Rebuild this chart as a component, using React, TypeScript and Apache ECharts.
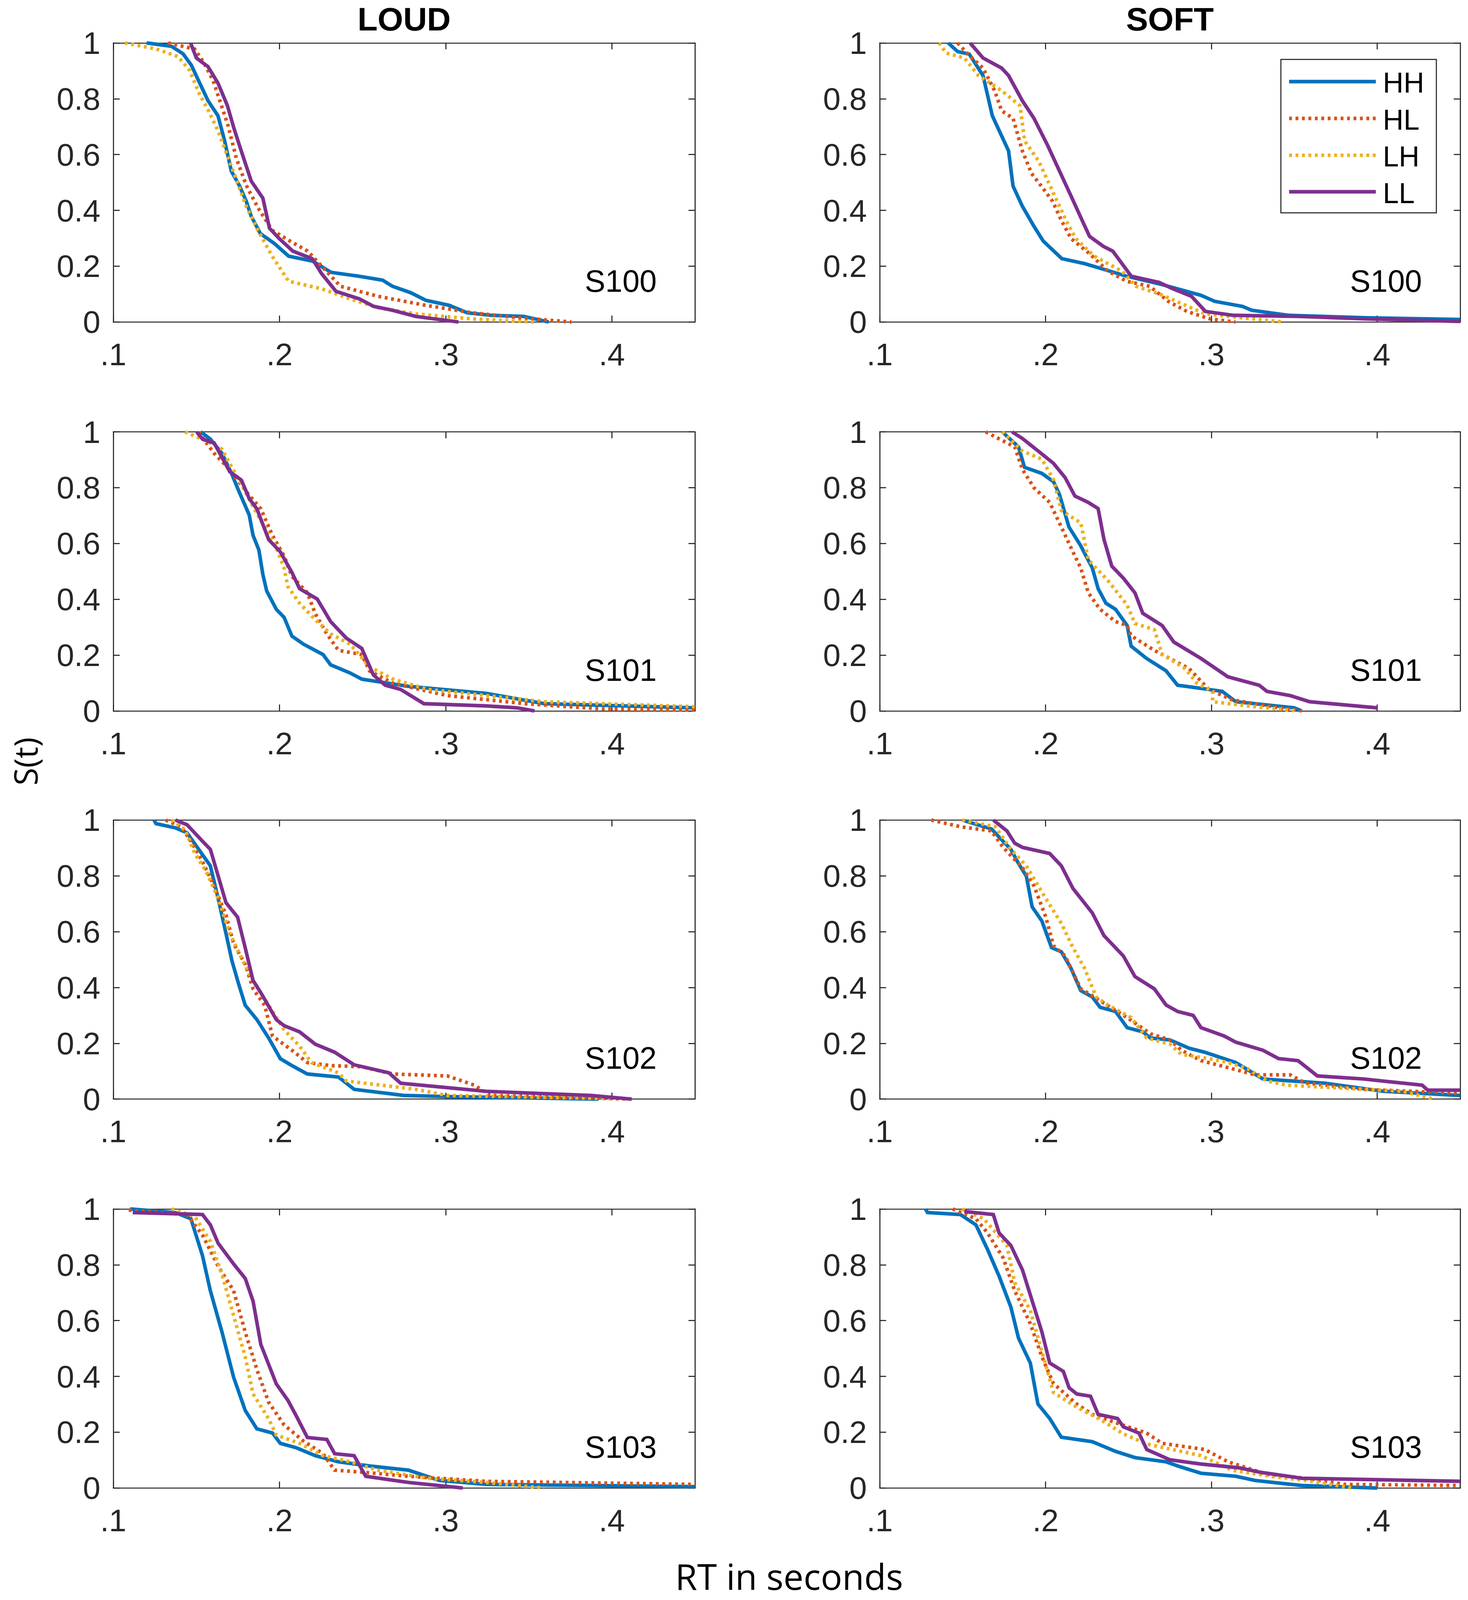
import React, { useEffect, useRef, useState } from "react";
import * as echarts from "echarts";

// ---------- DATA ----------
const conditions = ["HH", "HL", "LH", "LL"];
const columnTitles = ["LOUD", "SOFT"];
const subjects = ["S100", "S101", "S102", "S103"];
const xTicks = [0.1, 0.2, 0.3, 0.4];
const yTicks = [0, 0.2, 0.4, 0.6, 0.8, 1];

// LOUD S100
const L100_HH = [[0.12,1],[0.135,0.988],[0.142,0.961],[0.147,0.92],[0.152,0.856],[0.157,0.793],[0.163,0.739],[0.167,0.649],[0.171,0.541],[0.176,0.487],[0.18,0.433],[0.183,0.379],[0.1885,0.317],[0.197,0.281],[0.2055,0.236],[0.22,0.218],[0.231,0.178],[0.248,0.164],[0.262,0.15],[0.268,0.128],[0.279,0.105],[0.288,0.078],[0.302,0.06],[0.313,0.033],[0.3275,0.024],[0.347,0.02],[0.362,0]];
const L100_HL = [[0.133,1],[0.149,0.978],[0.1545,0.929],[0.16,0.866],[0.164,0.795],[0.169,0.705],[0.174,0.588],[0.18,0.49],[0.187,0.41],[0.1956,0.329],[0.2055,0.293],[0.217,0.254],[0.2254,0.2],[0.2367,0.128],[0.2594,0.092],[0.2878,0.06],[0.316,0.033],[0.3446,0.015],[0.3757,0]];
const L100_LH = [[0.107,1],[0.126,0.978],[0.139,0.951],[0.146,0.901],[0.1516,0.82],[0.1573,0.757],[0.163,0.685],[0.1687,0.595],[0.1743,0.505],[0.18,0.415],[0.187,0.329],[0.1956,0.236],[0.2055,0.146],[0.2254,0.119],[0.2424,0.083],[0.2594,0.051],[0.282,0.029],[0.316,0.011],[0.353,0]];
const L100_LL = [[0.1465,1],[0.15,0.946],[0.157,0.915],[0.163,0.856],[0.1687,0.775],[0.1726,0.694],[0.177,0.613],[0.183,0.505],[0.19,0.444],[0.194,0.336],[0.1997,0.3],[0.208,0.254],[0.2197,0.227],[0.2254,0.173],[0.234,0.11],[0.248,0.083],[0.2567,0.056],[0.268,0.042],[0.282,0.02],[0.2935,0.011],[0.3077,0]];

// SOFT S100
const S100_HH = [[0.1413,1],[0.147,0.969],[0.154,0.96],[0.1623,0.883],[0.1679,0.739],[0.1777,0.613],[0.1804,0.487],[0.186,0.415],[0.193,0.343],[0.1986,0.29],[0.2098,0.227],[0.2237,0.209],[0.2489,0.164],[0.2684,0.137],[0.2936,0.096],[0.302,0.074],[0.3187,0.056],[0.3243,0.042],[0.3466,0.024],[0.394,0.015],[0.45,0.009]];
const S100_HL = [[0.147,1],[0.154,0.955],[0.1623,0.91],[0.1693,0.829],[0.1735,0.757],[0.1804,0.73],[0.186,0.613],[0.1916,0.532],[0.1986,0.478],[0.2042,0.433],[0.2098,0.361],[0.2154,0.299],[0.2265,0.245],[0.2377,0.182],[0.2489,0.146],[0.2628,0.128],[0.274,0.074],[0.2852,0.038],[0.2992,0.011],[0.3145,0]];
const S100_LH = [[0.1358,1],[0.14,0.964],[0.1511,0.946],[0.1595,0.883],[0.1735,0.829],[0.1846,0.775],[0.1874,0.649],[0.1958,0.577],[0.2014,0.505],[0.207,0.433],[0.2126,0.361],[0.2182,0.299],[0.2293,0.236],[0.2461,0.182],[0.2545,0.128],[0.2684,0.101],[0.2824,0.065],[0.2964,0.029],[0.3187,0.015],[0.3439,0]];
const S100_LL = [[0.1545,1],[0.1623,0.946],[0.1735,0.91],[0.1777,0.883],[0.186,0.793],[0.193,0.73],[0.2014,0.631],[0.207,0.559],[0.2154,0.451],[0.2223,0.361],[0.2265,0.307],[0.2349,0.271],[0.2405,0.254],[0.2517,0.164],[0.2684,0.142],[0.2768,0.119],[0.288,0.092],[0.2964,0.038],[0.3131,0.024],[0.3522,0.02],[0.394,0.011],[0.45,0.002]];

// LOUD S101
const L101_HH = [[0.1526,1],[0.1584,0.974],[0.1654,0.923],[0.1713,0.849],[0.1748,0.798],[0.1818,0.702],[0.1841,0.629],[0.1876,0.577],[0.19,0.489],[0.1923,0.43],[0.1981,0.364],[0.2028,0.335],[0.2075,0.268],[0.2145,0.239],[0.2262,0.202],[0.2308,0.165],[0.2425,0.136],[0.2495,0.114],[0.2776,0.088],[0.3243,0.063],[0.3593,0.026],[0.45,0.011]];
const L101_HL = [[0.1514,1],[0.1561,0.96],[0.1607,0.923],[0.1701,0.864],[0.1794,0.79],[0.1888,0.724],[0.1958,0.629],[0.2028,0.555],[0.2075,0.482],[0.2168,0.423],[0.2215,0.349],[0.2285,0.276],[0.2355,0.217],[0.2495,0.202],[0.2542,0.143],[0.2682,0.099],[0.3009,0.055],[0.3477,0.026],[0.3944,0.007],[0.45,0.004]];
const L101_LH = [[0.1432,1],[0.1561,0.967],[0.1654,0.938],[0.1701,0.886],[0.1771,0.813],[0.1841,0.732],[0.1911,0.658],[0.1981,0.585],[0.2028,0.511],[0.2051,0.445],[0.2121,0.386],[0.2215,0.327],[0.2308,0.276],[0.2425,0.239],[0.2542,0.158],[0.2682,0.114],[0.2893,0.077],[0.3243,0.055],[0.3593,0.033],[0.45,0.015]];
const L101_LL = [[0.1502,1],[0.1537,0.974],[0.1607,0.96],[0.1701,0.857],[0.1771,0.827],[0.1818,0.761],[0.1864,0.724],[0.1935,0.614],[0.2005,0.57],[0.2075,0.496],[0.2121,0.438],[0.2227,0.401],[0.2308,0.32],[0.2402,0.261],[0.2495,0.224],[0.2565,0.129],[0.2636,0.092],[0.2729,0.077],[0.2869,0.026],[0.3243,0.018],[0.343,0.011],[0.3535,0]];

// SOFT S101
const S101_HH = [[0.1739,1],[0.1837,0.946],[0.1873,0.873],[0.1978,0.851],[0.2048,0.821],[0.2083,0.777],[0.2141,0.659],[0.2211,0.593],[0.2282,0.512],[0.2317,0.438],[0.2364,0.386],[0.2422,0.364],[0.2492,0.306],[0.2516,0.232],[0.2609,0.188],[0.2726,0.144],[0.2796,0.092],[0.2984,0.077],[0.3065,0.07],[0.3147,0.033],[0.3498,0.011],[0.3545,0]];
const S101_HL = [[0.1639,1],[0.1814,0.946],[0.1861,0.865],[0.1931,0.799],[0.2025,0.747],[0.2095,0.659],[0.2165,0.57],[0.2212,0.512],[0.2258,0.423],[0.2329,0.364],[0.2422,0.32],[0.2492,0.306],[0.2516,0.269],[0.2656,0.217],[0.2867,0.151],[0.2984,0.077],[0.3124,0.04],[0.3405,0.011],[0.3545,0]];
const S101_LH = [[0.1739,1],[0.1861,0.931],[0.1978,0.902],[0.2048,0.828],[0.2095,0.718],[0.2212,0.674],[0.2258,0.541],[0.2375,0.468],[0.2492,0.379],[0.2539,0.313],[0.2656,0.291],[0.2703,0.203],[0.2843,0.151],[0.2913,0.099],[0.3007,0.07],[0.3007,0.033],[0.3218,0.018],[0.3522,0]];
const S101_LL = [[0.1798,1],[0.1861,0.976],[0.1954,0.932],[0.2048,0.887],[0.2118,0.836],[0.2177,0.77],[0.2258,0.747],[0.2317,0.725],[0.2352,0.615],[0.2399,0.519],[0.247,0.475],[0.2539,0.423],[0.2586,0.35],[0.2703,0.306],[0.2773,0.247],[0.2937,0.188],[0.31,0.122],[0.3288,0.092],[0.3335,0.07],[0.3475,0.055],[0.3592,0.033],[0.4,0.011]];

// LOUD S102
const L102_HH = [[0.1245,1],[0.1257,0.987],[0.1374,0.972],[0.1444,0.954],[0.1514,0.895],[0.1584,0.836],[0.1631,0.719],[0.1678,0.594],[0.1713,0.498],[0.1748,0.425],[0.1794,0.336],[0.1864,0.285],[0.1935,0.219],[0.2005,0.145],[0.2075,0.12],[0.2168,0.09],[0.2355,0.079],[0.2449,0.035],[0.2752,0.013],[0.3009,0.009],[0.392,0]];
const L102_HL = [[0.1315,1],[0.1409,0.976],[0.1467,0.924],[0.1537,0.851],[0.1607,0.763],[0.1678,0.66],[0.1724,0.557],[0.1794,0.483],[0.1841,0.395],[0.1911,0.336],[0.1958,0.226],[0.2075,0.175],[0.2168,0.131],[0.2308,0.12],[0.2495,0.116],[0.2682,0.09],[0.3009,0.083],[0.3173,0.05],[0.3266,0.013],[0.371,0.006],[0.4131,0]];
const L102_LH = [[0.135,1],[0.1432,0.965],[0.1491,0.88],[0.1561,0.814],[0.1631,0.719],[0.1701,0.594],[0.1771,0.506],[0.1841,0.425],[0.1935,0.336],[0.2028,0.248],[0.2121,0.19],[0.2192,0.131],[0.2355,0.094],[0.2402,0.065],[0.2822,0.035],[0.3009,0.013],[0.399,0.002]];
const L102_LL = [[0.1374,1],[0.1444,0.983],[0.1537,0.924],[0.1584,0.895],[0.1631,0.8],[0.1678,0.704],[0.1748,0.652],[0.1794,0.542],[0.1841,0.425],[0.1888,0.381],[0.1981,0.285],[0.2028,0.263],[0.2121,0.241],[0.2215,0.197],[0.2332,0.168],[0.2449,0.123],[0.2659,0.094],[0.2729,0.057],[0.3243,0.028],[0.3874,0.013],[0.4119,0]];

// SOFT S102
const S102_HH = [[0.1498,1],[0.1674,0.968],[0.1744,0.924],[0.1791,0.895],[0.1837,0.844],[0.1884,0.799],[0.1919,0.689],[0.1978,0.638],[0.2036,0.543],[0.2095,0.528],[0.2153,0.469],[0.2212,0.389],[0.2282,0.366],[0.2329,0.329],[0.2422,0.314],[0.2492,0.256],[0.2586,0.241],[0.2632,0.219],[0.275,0.212],[0.2867,0.182],[0.296,0.168],[0.3147,0.131],[0.3311,0.072],[0.3685,0.057],[0.4036,0.028],[0.45,0.013]];
const S102_HL = [[0.1311,1],[0.1487,0.976],[0.1674,0.961],[0.1744,0.902],[0.1861,0.829],[0.1931,0.763],[0.2001,0.653],[0.2048,0.55],[0.2118,0.513],[0.2212,0.396],[0.2329,0.352],[0.2492,0.292],[0.2563,0.263],[0.2633,0.234],[0.275,0.212],[0.282,0.175],[0.2937,0.138],[0.3124,0.109],[0.3264,0.087],[0.3475,0.087],[0.3569,0.057],[0.3919,0.035],[0.45,0.021]];
const S102_LH = [[0.1498,1],[0.1697,0.976],[0.1791,0.895],[0.1884,0.836],[0.2001,0.719],[0.2095,0.63],[0.2165,0.543],[0.2235,0.469],[0.2305,0.366],[0.2375,0.337],[0.2516,0.292],[0.261,0.219],[0.275,0.197],[0.282,0.16],[0.2984,0.145],[0.3101,0.131],[0.3218,0.109],[0.3335,0.065],[0.3452,0.05],[0.4153,0.028],[0.434,0]];
const S102_LL = [[0.1685,1],[0.1767,0.961],[0.1814,0.917],[0.1861,0.902],[0.2025,0.88],[0.2095,0.836],[0.2165,0.755],[0.2282,0.667],[0.2352,0.586],[0.2469,0.513],[0.2539,0.439],[0.2656,0.395],[0.2727,0.337],[0.2797,0.314],[0.289,0.3],[0.2937,0.256],[0.3077,0.226],[0.3147,0.204],[0.3311,0.175],[0.3405,0.145],[0.3522,0.138],[0.3639,0.083],[0.3919,0.072],[0.427,0.05],[0.4305,0.032],[0.45,0.032]];

// LOUD S103
const L103_HH = [[0.11,1],[0.1374,0.987],[0.1467,0.965],[0.1537,0.832],[0.1584,0.707],[0.1654,0.559],[0.1724,0.397],[0.1794,0.278],[0.1864,0.212],[0.1958,0.197],[0.2005,0.16],[0.2098,0.145],[0.2215,0.116],[0.2355,0.094],[0.2542,0.079],[0.2776,0.064],[0.2963,0.027],[0.3243,0.013],[0.45,0.005]];
const L103_HL = [[0.1093,0.996],[0.1444,0.98],[0.1537,0.906],[0.1631,0.795],[0.1724,0.707],[0.1794,0.559],[0.1864,0.425],[0.1935,0.307],[0.2028,0.226],[0.2145,0.168],[0.2262,0.123],[0.2332,0.064],[0.2495,0.057],[0.2776,0.042],[0.3243,0.024],[0.45,0.013]];
const L103_LH = [[0.135,1],[0.149,0.973],[0.1584,0.884],[0.1654,0.766],[0.1724,0.618],[0.1794,0.47],[0.1841,0.337],[0.1935,0.248],[0.1981,0.19],[0.2121,0.16],[0.2262,0.116],[0.2425,0.094],[0.2589,0.064],[0.2893,0.035],[0.3243,0.02],[0.3593,0]];
const L103_LL = [[0.1117,0.987],[0.1537,0.98],[0.1584,0.943],[0.1631,0.877],[0.1724,0.803],[0.1794,0.751],[0.1841,0.67],[0.1888,0.514],[0.1981,0.373],[0.2051,0.314],[0.2098,0.262],[0.2168,0.181],[0.2285,0.174],[0.2332,0.123],[0.2449,0.116],[0.2519,0.042],[0.2776,0.02],[0.3103,0]];

// SOFT S103
const S103_HH = [[0.1276,1],[0.1288,0.987],[0.1487,0.98],[0.158,0.943],[0.165,0.855],[0.172,0.759],[0.1791,0.648],[0.1837,0.537],[0.1908,0.448],[0.1954,0.301],[0.2025,0.249],[0.2095,0.182],[0.2282,0.166],[0.2423,0.131],[0.2539,0.109],[0.2726,0.094],[0.2797,0.079],[0.2937,0.053],[0.3147,0.042],[0.3264,0.027],[0.3545,0.009],[0.4,0]];
const S103_HL = [[0.144,1],[0.158,0.965],[0.165,0.914],[0.1744,0.825],[0.1814,0.707],[0.1908,0.589],[0.1978,0.47],[0.2048,0.374],[0.2188,0.301],[0.2282,0.264],[0.2423,0.234],[0.2609,0.197],[0.2703,0.16],[0.296,0.138],[0.31,0.094],[0.3335,0.049],[0.3569,0.035],[0.3802,0.013],[0.45,0.009]];
const S103_LH = [[0.1498,1],[0.1627,0.965],[0.1767,0.869],[0.1814,0.736],[0.1908,0.637],[0.1978,0.489],[0.2048,0.342],[0.2188,0.29],[0.2329,0.246],[0.2469,0.194],[0.2609,0.158],[0.2937,0.116],[0.3124,0.064],[0.3358,0.042],[0.3569,0.027],[0.3849,0]];
const S103_LL = [[0.151,0.991],[0.1685,0.98],[0.172,0.914],[0.1791,0.869],[0.1861,0.781],[0.1908,0.692],[0.1978,0.559],[0.2025,0.448],[0.2107,0.418],[0.2142,0.359],[0.2189,0.337],[0.2271,0.329],[0.2317,0.264],[0.2434,0.249],[0.2469,0.219],[0.2563,0.197],[0.261,0.138],[0.275,0.101],[0.2937,0.086],[0.3171,0.072],[0.3288,0.057],[0.3545,0.035],[0.45,0.024]];

const panelData = [
  [[L100_HH, L100_HL, L100_LH, L100_LL], [S100_HH, S100_HL, S100_LH, S100_LL]],
  [[L101_HH, L101_HL, L101_LH, L101_LL], [S101_HH, S101_HL, S101_LH, S101_LL]],
  [[L102_HH, L102_HL, L102_LH, L102_LL], [S102_HH, S102_HL, S102_LH, S102_LL]],
  [[L103_HH, L103_HL, L103_LH, L103_LL], [S103_HH, S103_HL, S103_LH, S103_LL]],
];

// ---------- STYLE / LAYOUT (reference pixel units, 3758 x 4472) ----------
const colors = ["#0072BD", "#D95319", "#EDB120", "#7E2F8E"];
const dotted = [false, true, true, false];
const REF_W = 3758;
const REF_H = 4472;
const colLeft = [290, 2252];
const colWidth = [1489, 1486];
const rowTop = [120, 1207, 2292, 3379];
const plotH = 780;
const axisColor = "#262626";
const tickFont = "Liberation Sans, Arial, Helvetica, sans-serif";
const labelFont = "Open Sans, Noto Sans, sans-serif";

function buildOption(W: number, H: number) {
  const sx = W / REF_W;
  const sy = H / REF_H;
  const sf = Math.min(sx, sy);
  const X = (v: number) => v * sx;
  const Y = (v: number) => v * sy;
  const F = (v: number) => Math.max(1, v * sf);
  const dash = [F(8), F(10)];

  const grid: any[] = [];
  const xAxis: any[] = [];
  const yAxis: any[] = [];
  const series: any[] = [];
  const graphic: any[] = [];

  const axisLine = { show: true, onZero: false, lineStyle: { color: axisColor, width: F(3) } };
  const tickStyle = { color: axisColor, width: F(3) };
  const tickLen = F(18);

  for (let r = 0; r < 4; r++) {
    for (let c = 0; c < 2; c++) {
      const gi = grid.length;
      grid.push({
        left: X(colLeft[c]),
        top: Y(rowTop[r]),
        width: X(colWidth[c]),
        height: Y(plotH),
        containLabel: false,
        show: false,
      });
      xAxis.push({
        type: "value",
        gridIndex: gi,
        min: 0.1,
        max: 0.45,
        position: "bottom",
        axisLine,
        axisTick: { show: true, inside: true, length: tickLen, customValues: xTicks, lineStyle: tickStyle },
        axisLabel: {
          show: true,
          customValues: xTicks,
          formatter: (v: number) => "." + Math.round(v * 10),
          fontSize: F(88),
          fontFamily: tickFont,
          color: axisColor,
          margin: F(46),
        },
        splitLine: { show: false },
      });
      xAxis.push({
        type: "value",
        gridIndex: gi,
        min: 0.1,
        max: 0.45,
        position: "top",
        axisLine,
        axisTick: { show: true, inside: true, length: tickLen, customValues: xTicks, lineStyle: tickStyle },
        axisLabel: { show: false },
        splitLine: { show: false },
      });
      yAxis.push({
        type: "value",
        gridIndex: gi,
        min: 0,
        max: 1,
        interval: 0.2,
        position: "left",
        axisLine,
        axisTick: { show: true, inside: true, length: tickLen, customValues: yTicks, lineStyle: tickStyle },
        axisLabel: {
          show: true,
          customValues: yTicks,
          formatter: (v: number) => String(Math.round(v * 10) / 10),
          fontSize: F(88),
          fontFamily: tickFont,
          color: axisColor,
          margin: F(36),
        },
        splitLine: { show: false },
      });
      yAxis.push({
        type: "value",
        gridIndex: gi,
        min: 0,
        max: 1,
        interval: 0.2,
        position: "right",
        axisLine,
        axisTick: { show: true, inside: true, length: tickLen, customValues: yTicks, lineStyle: tickStyle },
        axisLabel: { show: false },
        splitLine: { show: false },
      });

      const curves = panelData[r][c];
      for (let k = 0; k < 4; k++) {
        series.push({
          type: "line",
          name: conditions[k],
          xAxisIndex: gi * 2,
          yAxisIndex: gi * 2,
          data: curves[k],
          showSymbol: false,
          symbol: "none",
          clip: true,
          silent: true,
          z: 2 + k,
          lineStyle: {
            color: colors[k],
            width: F(10),
            type: dotted[k] ? dash : "solid",
            cap: "butt",
            join: "miter",
          },
        });
      }

      graphic.push({
        type: "text",
        z: 50,
        x: X(colLeft[c] + colWidth[c] - 98),
        y: Y(rowTop[r] + plotH - 114),
        style: {
          text: subjects[r],
          fontSize: F(86),
          fontFamily: tickFont,
          fill: "#000000",
          textAlign: "right",
          textVerticalAlign: "middle",
        },
      });
    }
  }

  for (let c = 0; c < 2; c++) {
    graphic.push({
      type: "text",
      z: 50,
      x: X(colLeft[c] + colWidth[c] / 2),
      y: Y(54),
      style: {
        text: columnTitles[c],
        fontSize: F(92),
        fontWeight: "bold",
        fontFamily: tickFont,
        fill: "#000000",
        textAlign: "center",
        textVerticalAlign: "middle",
      },
    });
  }

  graphic.push({
    type: "text",
    z: 50,
    x: X(2020),
    y: Y(4405),
    style: {
      text: "RT in seconds",
      fontSize: F(100),
      fontFamily: labelFont,
      fill: "#000000",
      textAlign: "center",
      textVerticalAlign: "middle",
    },
  });
  graphic.push({
    type: "text",
    z: 50,
    x: X(64),
    y: Y(2128),
    rotation: Math.PI / 2,
    style: {
      text: "S(t)",
      fontSize: F(90),
      fontFamily: labelFont,
      fill: "#000000",
      textAlign: "center",
      textVerticalAlign: "middle",
    },
  });

  const lgX = 3279, lgY = 166, lgW = 398, lgH = 429;
  const lgRows = [228, 331, 434, 536];
  graphic.push({
    type: "rect",
    z: 60,
    shape: { x: X(lgX), y: Y(lgY), width: X(lgW), height: Y(lgH) },
    style: { fill: "#ffffff", stroke: axisColor, lineWidth: F(3) },
  });
  for (let k = 0; k < 4; k++) {
    graphic.push({
      type: "line",
      z: 61,
      shape: { x1: X(3300), y1: Y(lgRows[k]), x2: X(3522), y2: Y(lgRows[k]) },
      style: {
        stroke: colors[k],
        lineWidth: F(10),
        lineDash: dotted[k] ? dash : null,
        lineCap: "butt",
      },
    });
    graphic.push({
      type: "text",
      z: 61,
      x: X(3540),
      y: Y(lgRows[k] + 4),
      style: {
        text: conditions[k],
        fontSize: F(80),
        fontFamily: tickFont,
        fill: "#000000",
        textAlign: "left",
        textVerticalAlign: "middle",
      },
    });
  }

  return {
    animation: false,
    backgroundColor: "#ffffff",
    grid,
    xAxis,
    yAxis,
    series,
    graphic,
  };
}

function getViewport() {
  const w = window.innerWidth || document.documentElement.clientWidth || REF_W;
  const h = window.innerHeight || document.documentElement.clientHeight || REF_H;
  return { w, h };
}

export default function App() {
  const ref = useRef<HTMLDivElement | null>(null);
  const [size, setSize] = useState(() => {
    document.body.style.margin = "0";
    document.body.style.overflow = "hidden";
    document.documentElement.style.overflow = "hidden";
    return getViewport();
  });

  useEffect(() => {
    const onResize = () => setSize(getViewport());
    window.addEventListener("resize", onResize);
    return () => window.removeEventListener("resize", onResize);
  }, []);

  useEffect(() => {
    if (!ref.current) return;
    const chart = echarts.init(ref.current, null, {
      renderer: "svg",
      width: size.w,
      height: size.h,
    });
    chart.setOption(buildOption(size.w, size.h) as any);
    return () => {
      chart.dispose();
    };
  }, [size.w, size.h]);

  return (
    <div
      ref={ref}
      style={{
        position: "absolute",
        left: 0,
        top: 0,
        width: size.w,
        height: size.h,
        background: "#ffffff",
      }}
    />
  );
}
